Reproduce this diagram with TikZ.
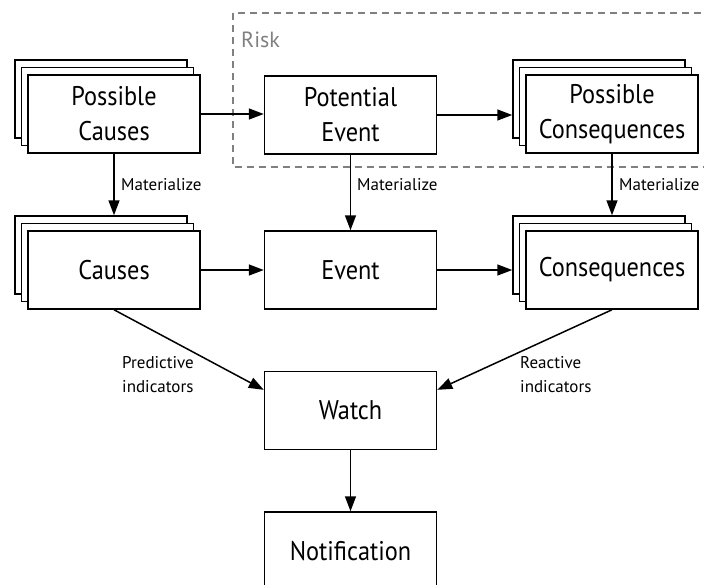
\documentclass[tikz,border=0pt]{standalone}
\usepackage{fontspec}
\setmainfont{PT Sans}
\newfontfamily\boxfont[FakeStretch=0.9]{PT Sans}
\usetikzlibrary{arrows.meta,calc}
\begin{document}
\begin{tikzpicture}[x=1pt,y=-1pt,
  box/.style={draw, line width=1.5pt, fill=white, minimum width=172pt,
    minimum height=78pt, inner sep=0pt, align=center,
    font=\boxfont\fontsize{27}{35}\selectfont},
  ghost/.style={box, font=\relax},
  arr/.style={line width=1.5pt, -{Triangle[length=15pt,width=11pt]}},
  lbl/.style={font=\fontsize{17}{24}\selectfont, inner sep=0pt, anchor=west, align=left},
  riskframe/.style={draw=gray, line width=1.4pt, dash pattern=on 7pt off 5pt}]
\useasboundingbox (0,0) rectangle (704,584);
\clip (0,0) rectangle (704,584);

% risk region
\draw[riskframe] (233,13) rectangle (715,167);
\node[font=\fontsize{22}{26}\selectfont, text=gray, anchor=west, inner sep=0pt] (risk) at (241,40) {Risk};

% stacked boxes: possible causes
\node[ghost] (pc3) at (101,99) {};
\node[ghost] (pc2) at (107.5,106.5) {};
\node[box] (pc) at (114,114) {Possible\\Causes};

% potential event
\node[box] (pe) at (350.5,115) {Potential\\Event};

% stacked boxes: possible consequences
\node[ghost] (pq3) at (599,99) {};
\node[ghost] (pq2) at (605.5,106.5) {};
\node[box] (pq) at (612,114) {Possible\\Consequences};

% stacked boxes: causes
\node[ghost] (c3) at (101,255) {};
\node[ghost] (c2) at (107.5,262.5) {};
\node[box] (c) at (114,270) {Causes};

% event
\node[box] (ev) at (350.5,270) {Event};

% stacked boxes: consequences
\node[ghost] (q3) at (599,255) {};
\node[ghost] (q2) at (605.5,262.5) {};
\node[box] (q) at (612,270) {Consequences};

% watch and notification
\node[box] (w) at (350.5,410.5) {Watch};
\node[box] (n) at (350.5,551) {Notification};

% horizontal flow
\draw[arr] (pc.east) -- (pe.west |- pc.east);
\draw[arr] (pe.east) -- (pe.east -| pq3.west);
\draw[arr] (c.east) -- (ev.west);
\draw[arr] (ev.east) -- (ev.east -| q3.west);

% materialize links
\draw[arr] (pc.south) -- (pc.south |- c3.north);
\draw[arr] (pe.south) -- (ev.north);
\draw[arr] (pq.south) -- (pq.south |- q3.north);
\node[lbl] (m1) at (121,185) {Materialize};
\node[lbl] (m2) at (357,185) {Materialize};
\node[lbl] (m3) at (619,185) {Materialize};

% indicators
\draw[arr] (c.south) -- ($(w.north west)!0.24!(w.south west)$);
\draw[arr] (q.south) -- ($(w.north east)!0.24!(w.south east)$);
\node[lbl] (pi) at (122,375) {Predictive\\indicators};
\node[lbl] (ri) at (520,375) {Reactive\\indicators};

\draw[arr] (w.south) -- (n.north);
\end{tikzpicture}
\end{document}
